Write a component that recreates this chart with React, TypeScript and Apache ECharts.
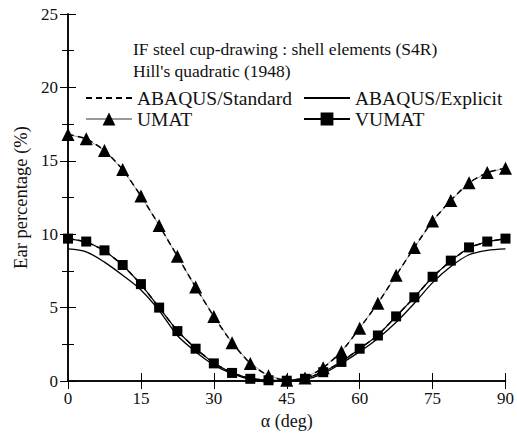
import React, { useEffect, useRef } from "react";
import * as echarts from "echarts";

const angles = [0, 3.75, 7.5, 11.25, 15, 18.75, 22.5, 26.25, 30, 33.75, 37.5, 41.25, 45, 48.75, 52.5, 56.25, 60, 63.75, 67.5, 71.25, 75, 78.75, 82.5, 86.25, 90];
const umat = [16.8, 16.5, 15.7, 14.4, 12.6, 10.6, 8.5, 6.4, 4.4, 2.6, 1.2, 0.35, 0.05, 0.2, 0.9, 2.0, 3.6, 5.3, 7.2, 9.1, 10.9, 12.3, 13.5, 14.2, 14.5];
const abaqusStandard = [16.8, 16.5, 15.7, 14.4, 12.6, 10.6, 8.5, 6.4, 4.4, 2.6, 1.2, 0.35, 0.05, 0.2, 0.9, 2.0, 3.6, 5.3, 7.2, 9.1, 10.9, 12.3, 13.5, 14.2, 14.5];
const vumat = [9.7, 9.5, 8.9, 7.9, 6.6, 5.0, 3.4, 2.2, 1.2, 0.55, 0.15, 0.05, 0.02, 0.15, 0.6, 1.3, 2.2, 3.1, 4.4, 5.7, 7.1, 8.2, 9.1, 9.5, 9.7];
const abaqusExplicit = [9.0, 8.8, 8.1, 7.2, 6.2, 4.8, 3.1, 2.0, 1.1, 0.5, 0.12, 0.02, 0.0, 0.1, 0.5, 1.2, 2.0, 2.9, 4.0, 5.3, 6.7, 7.8, 8.6, 8.9, 9.0];
const xTicks = [0, 15, 30, 45, 60, 75, 90];
const yTicks = [0, 5, 10, 15, 20, 25];

const pairs = (ys: number[]) => angles.map((a, i) => [a, ys[i]]);

const FONT = "Times New Roman, Liberation Serif, serif";

export default function App() {
  const ref = useRef<HTMLDivElement>(null);
  useEffect(() => {
    if (!ref.current) return;
    const chart = echarts.init(ref.current, null, { renderer: "svg" });
    const axisLine = { show: true, lineStyle: { color: "#000", width: 1.5 } };
    const tick = { show: true, inside: true, length: 8, lineStyle: { color: "#000", width: 1 } };
    const minor = { show: true, splitNumber: 2, length: 6, lineStyle: { color: "#000", width: 1 } };
    const txt = { color: "#111", fontFamily: FONT, fontSize: 19.5 };
    chart.setOption({
      animation: false,
      backgroundColor: "#fff",
      textStyle: { fontFamily: FONT },
      grid: { left: 68, right: 9, top: 14, bottom: 64 },
      xAxis: [
        {
          type: "value",
          min: xTicks[0],
          max: xTicks[xTicks.length - 1],
          interval: 15,
          position: "bottom",
          axisLine,
          axisTick: tick,
          axisLabel: { color: "#111", fontFamily: FONT, fontSize: 17, margin: 9 },
          splitLine: { show: false },
          name: "α (deg)",
          nameLocation: "middle",
          nameGap: 23,
          nameTextStyle: { color: "#111", fontFamily: FONT, fontSize: 18 },
        },
        {
          type: "value",
          min: xTicks[0],
          max: xTicks[xTicks.length - 1],
          interval: 15,
          position: "top",
          axisLine,
          axisTick: tick,
          axisLabel: { show: false },
          splitLine: { show: false },
        },
      ],
      yAxis: [
        {
          type: "value",
          min: yTicks[0],
          max: yTicks[yTicks.length - 1],
          interval: 5,
          position: "left",
          axisLine,
          axisTick: tick,
          minorTick: minor,
          axisLabel: { color: "#111", fontFamily: FONT, fontSize: 17, margin: 10 },
          splitLine: { show: false },
          minorSplitLine: { show: false },
          name: "Ear percentage (%)",
          nameLocation: "middle",
          nameGap: 29,
          nameTextStyle: { color: "#111", fontFamily: FONT, fontSize: 18.5 },
        },
        {
          type: "value",
          min: yTicks[0],
          max: yTicks[yTicks.length - 1],
          interval: 5,
          position: "right",
          axisLine,
          axisTick: tick,
          minorTick: minor,
          axisLabel: { show: false },
          splitLine: { show: false },
          minorSplitLine: { show: false },
        },
      ],
      legend: [
        {
          orient: "vertical",
          left: 80,
          top: 83,
          itemWidth: 46,
          itemHeight: 16,
          itemGap: 1,
          data: [{ name: "ABAQUS/Standard", icon: "inherit", itemStyle: { opacity: 0 } }, { name: "UMAT" }],
          textStyle: txt,
        },
        {
          orient: "vertical",
          left: 298,
          top: 83,
          itemWidth: 46,
          itemHeight: 16,
          itemGap: 1,
          data: [{ name: "ABAQUS/Explicit", icon: "inherit", itemStyle: { opacity: 0 } }, { name: "VUMAT" }],
          textStyle: txt,
        },
      ],
      graphic: [
        {
          type: "text",
          left: 133,
          top: 40,
          style: { text: "IF steel cup-drawing : shell elements (S4R)", fill: "#111", fontFamily: FONT, fontSize: 17.5 },
        },
        {
          type: "text",
          left: 133,
          top: 62,
          style: { text: "Hill's quadratic (1948)", fill: "#111", fontFamily: FONT, fontSize: 17.5 },
        },
      ],
      series: [
        {
          name: "ABAQUS/Explicit",
          type: "line",
          data: pairs(abaqusExplicit),
          smooth: 0.3,
          showSymbol: false,
          symbol: "none",
          lineStyle: { color: "#000", width: 1.3 },
          itemStyle: { color: "#000" },
          z: 3,
        },
        {
          name: "UMAT",
          type: "line",
          data: pairs(umat),
          symbol: "triangle",
          symbolSize: 13,
          lineStyle: { color: "#999", width: 1 },
          itemStyle: { color: "#000" },
          z: 4,
        },
        {
          name: "VUMAT",
          type: "line",
          data: pairs(vumat),
          symbol: "rect",
          symbolSize: 10,
          lineStyle: { color: "#000", width: 1.2 },
          itemStyle: { color: "#000" },
          z: 4,
        },
        {
          name: "VUMAT-dashed",
          type: "line",
          data: pairs(vumat),
          symbol: "none",
          lineStyle: { color: "#000", width: 1.5, type: [6, 4] },
          z: 4.5,
        },
        {
          name: "ABAQUS/Standard",
          type: "line",
          data: pairs(abaqusStandard),
          symbol: "none",
          smooth: 0.2,
          lineStyle: { color: "#000", width: 1.5, type: [6, 4] },
          itemStyle: { color: "#000" },
          z: 5,
        },
      ],
    });
    return () => chart.dispose();
  }, []);
  return <div ref={ref} style={{ position: "fixed", left: 0, top: 0, width: 517, height: 445 }} />;
}
